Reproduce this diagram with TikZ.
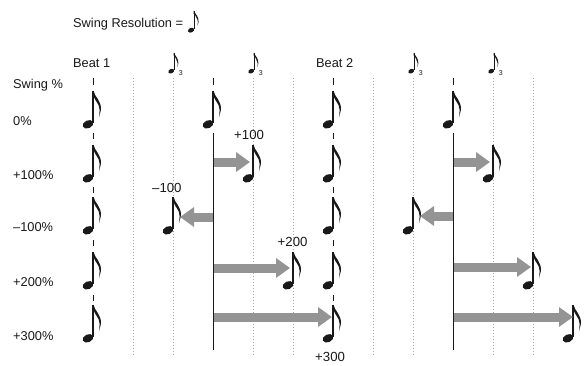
\documentclass[tikz,border=0pt]{standalone}
\usepackage{fontspec}
\setmainfont{Liberation Sans}
\usetikzlibrary{arrows.meta}
\definecolor{arrowgray}{RGB}{148,148,148}
\definecolor{dotgray}{RGB}{165,165,165}
\definecolor{inkcol}{RGB}{25,25,25}
\tikzset{
  lbl/.style={anchor=base west, inner sep=0pt, text=inkcol, font=\fontsize{12.8}{14}\selectfont},
  numlbl/.style={anchor=base west, inner sep=0pt, text=inkcol, font=\fontsize{13.2}{15}\selectfont},
  triplbl/.style={inner sep=0pt, text=inkcol, font=\fontsize{7}{8}\selectfont},
  gridline/.style={dotgray, line width=0.8pt, dash pattern=on 1pt off 2pt},
  beatline/.style={inkcol, line width=0.9pt},
  shiftarrow/.style={arrowgray, line width=9pt, -{Triangle[length=14pt,width=19pt]}},
  eighth/.pic={
    \begin{scope}[shift={(-5,0.3)}, rotate=25]
      \fill[inkcol] (0,0) ellipse[x radius=5.6pt, y radius=3.9pt];
    \end{scope}
    \fill[inkcol] (-0.6,-1) rectangle (0.6,-33);
    \fill[inkcol] (-0.6,-33) -- (0.6,-33) .. controls (1.6,-27) and (8.6,-23.5) .. (7.9,-14)
      .. controls (7.6,-11) .. (6.2,-7.2)
      .. controls (6.7,-11) .. (6.6,-14)
      .. controls (6.6,-20.5) and (1.4,-23.5) .. (0.6,-28) -- (-0.6,-28) -- cycle;
  }
}
\begin{document}
\begin{tikzpicture}[x=1pt,y=-1pt]
\useasboundingbox (0,0) rectangle (584,365);
\clip (0,0) rectangle (584,365);
\fill[white] (0,0) rectangle (584,365);

% dotted grid lines
\foreach \gx in {133,173,253,293,373,413,493,533}
  \draw[gridline] (\gx,78) -- (\gx,355);

% beat lines (dashed between notes)
\foreach \bx in {93,333} {
  \foreach \ya/\yb in {78/85, 133/139, 187/193, 240/246, 295/301}
    \draw[beatline] (\bx,\ya) -- (\bx,\yb);
}
% half-beat lines (solid below the first row)
\foreach \hx in {213,453} {
  \draw[beatline] (\hx,78) -- (\hx,85);
  \draw[beatline] (\hx,133) -- (\hx,350);
}

% texts
\node[lbl] (title) at (73,27.5) {Swing Resolution =};
\pic[scale=0.58] at (194,30) {eighth};
\node[lbl] (beat1) at (73,67) {Beat 1};
\node[lbl] (beat2) at (316,67) {Beat 2};
\node[lbl] (swingpct) at (13,88) {Swing \%};
\node[lbl] (r0) at (13,125) {0\%};
\node[lbl] (r1) at (13,179) {+100\%};
\node[lbl] (r2) at (13,231) {--100\%};
\node[lbl] (r3) at (13,286) {+200\%};
\node[lbl] (r4) at (13,340) {+300\%};

% triplet markers
\foreach \tx in {173,253,413,493} {
  \pic[scale=0.55] at (\tx+1,71) {eighth};
  \node[triplbl] at (\tx+7.8,73.5) {3};
}

% notes
\foreach \nx in {93,213,333,453} \pic at (\nx,124) {eighth};
\foreach \nx in {93,253,333,493} \pic at (\nx,178) {eighth};
\foreach \nx in {93,173,333,413} \pic at (\nx,230) {eighth};
\foreach \nx in {93,293,333,533} \pic at (\nx,285) {eighth};
\foreach \nx in {93,333,573} \pic at (\nx,338) {eighth};

% arrow end points
\coordinate (a1s) at (213.5,162); \coordinate (a1t) at (250,162);
\coordinate (b1s) at (453.5,162); \coordinate (b1t) at (490,162);
\coordinate (a2s) at (212.5,217); \coordinate (a2t) at (180,217);
\coordinate (b2s) at (452.5,216); \coordinate (b2t) at (420,216);
\coordinate (a3s) at (213.5,268); \coordinate (a3t) at (290,268);
\coordinate (b3s) at (453.5,267); \coordinate (b3t) at (531,267);
\coordinate (a4s) at (213.5,317); \coordinate (a4t) at (332,317);
\coordinate (b4s) at (453.5,317); \coordinate (b4t) at (573,317);
\draw[shiftarrow] (a1s) -- (a1t);
\draw[shiftarrow] (b1s) -- (b1t);
\draw[shiftarrow] (a2s) -- (a2t);
\draw[shiftarrow] (b2s) -- (b2t);
\draw[shiftarrow] (a3s) -- (a3t);
\draw[shiftarrow] (b3s) -- (b3t);
\draw[shiftarrow] (a4s) -- (a4t);
\draw[shiftarrow] (b4s) -- (b4t);

% arrow labels
\node[numlbl] (l1) at (234,139) {+100};
\node[numlbl] (l2) at (152,192) {--100};
\node[numlbl] (l3) at (277.5,246) {+200};
\node[numlbl] (l4) at (315,361.5) {+300};
\end{tikzpicture}
\end{document}
